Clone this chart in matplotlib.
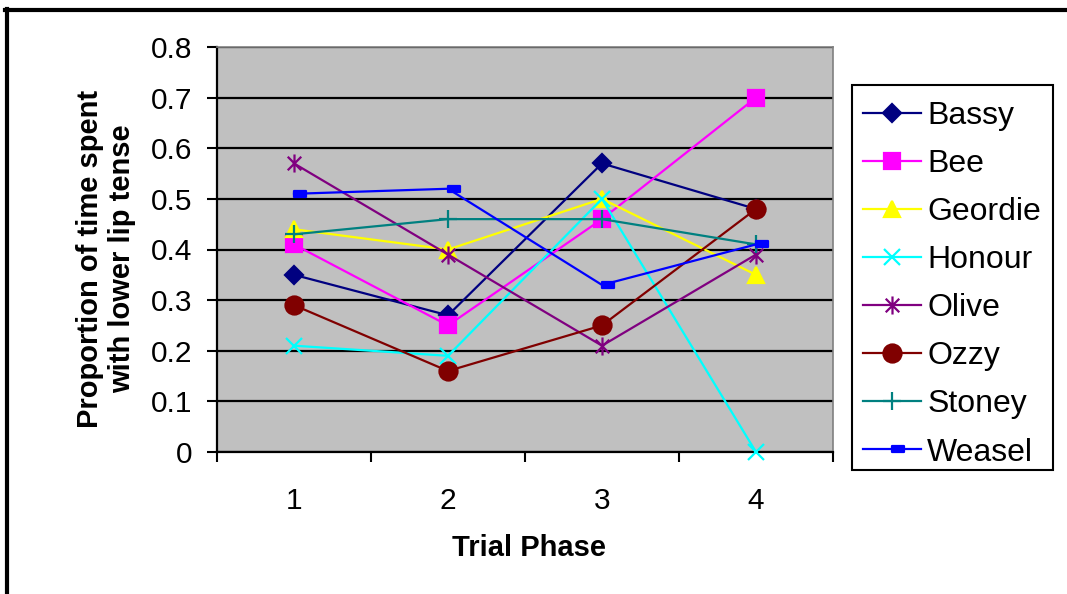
import matplotlib
matplotlib.use("Agg")
import matplotlib.pyplot as plt
from matplotlib.path import Path
from matplotlib.lines import Line2D
from matplotlib.patches import Rectangle

plt.rcParams['font.family'] = ['Liberation Sans', 'DejaVu Sans']

phases = [1, 2, 3, 4]
phase_labels = ["1", "2", "3", "4"]
names = ["Bassy", "Bee", "Geordie", "Honour", "Olive", "Ozzy", "Stoney", "Weasel"]
bassy = [0.35, 0.27, 0.57, 0.48]
bee = [0.41, 0.25, 0.46, 0.70]
geordie = [0.44, 0.40, 0.50, 0.35]
honour = [0.21, 0.19, 0.50, 0.00]
olive = [0.57, 0.39, 0.21, 0.39]
ozzy = [0.29, 0.16, 0.25, 0.48]
stoney = [0.43, 0.46, 0.46, 0.41]
weasel = [0.51, 0.52, 0.33, 0.41]
series = [bassy, bee, geordie, honour, olive, ozzy, stoney, weasel]
yticks = [0, 0.1, 0.2, 0.3, 0.4, 0.5, 0.6, 0.7, 0.8]
ytick_labels = ["0", "0.1", "0.2", "0.3", "0.4", "0.5", "0.6", "0.7", "0.8"]

colors = ["#000080", "#FF00FF", "#FFFF00", "#00FFFF", "#800080", "#800000", "#008080", "#0000FF"]

star = Path([(0, -1), (0, 1), (-0.75, -0.75), (0.75, 0.75), (-0.75, 0.75), (0.75, -0.75)],
            [Path.MOVETO, Path.LINETO, Path.MOVETO, Path.LINETO, Path.MOVETO, Path.LINETO])
dash = Path([(0, -0.25), (1, -0.25), (1, 0.25), (0, 0.25), (0, -0.25)],
            [Path.MOVETO, Path.LINETO, Path.LINETO, Path.LINETO, Path.CLOSEPOLY])
markers = ["D", "s", "^", "x", star, "o", "+", dash]
msizes = [9, 12, 12, 12, 13, 13, 13, 17]

fig = plt.figure(figsize=(10.67, 5.94), dpi=100)
ax = fig.add_axes([217/1067, 1-452/594, (833-217)/1067, (452-47)/594])
ax.set_facecolor("#C0C0C0")

handles = []
for name, vals, c, m, ms in zip(names, series, colors, markers, msizes):
    h, = ax.plot(phases, vals, color=c, lw=1.6, marker=m, markersize=ms,
                 markerfacecolor=c, markeredgecolor=c, markeredgewidth=1.6,
                 label=name, clip_on=False, zorder=3)
    handles.append(h)

ax.set_xlim(0.5, 4.5)
ax.set_ylim(0, 0.8)
ax.set_yticks(yticks)
ax.set_yticklabels(ytick_labels)
ax.yaxis.grid(True, color="black", lw=1.6)
ax.set_axisbelow(True)
ax.set_xticks(phases)
ax.set_xticklabels(phase_labels)
ax.set_xticks([0.5, 1.5, 2.5, 3.5, 4.5], minor=True)
ax.tick_params(axis='x', which='major', length=0, pad=25, labelsize=21.5)
ax.tick_params(axis='x', which='minor', length=7.5, width=1.5, color='black', direction='out')
ax.tick_params(axis='y', length=7.5, width=1.5, pad=10, labelsize=21.5, direction='out')
for s in ['left', 'bottom']:
    ax.spines[s].set_color('black')
    ax.spines[s].set_linewidth(1.6)
for s in ['top', 'right']:
    ax.spines[s].set_color('#808080')
    ax.spines[s].set_linewidth(1.2)

fig.text(529/1067, 1-548/594, "Trial Phase", ha='center', va='center',
         fontsize=21, fontweight='bold')
fig.text(106/1067, 1-259/594, "Proportion of time spent\nwith lower lip tense",
         ha='center', va='center', rotation=90, fontsize=21, fontweight='bold',
         linespacing=1.22)

# legend frame
fig.add_artist(Rectangle((852/1067, 1-470/594), (1053-852)/1067, (470-85)/594,
                         transform=fig.transFigure, facecolor='white',
                         edgecolor='black', lw=1.5, zorder=4))
leg = fig.legend(handles=handles, loc='upper left',
                 bbox_to_anchor=(852/1067, 1-90/594),
                 fontsize=23, frameon=False,
                 handlelength=1.8, handletextpad=0.2, labelspacing=0.565,
                 borderaxespad=0, borderpad=0.35)
leg.set_zorder(5)

fig.add_artist(Line2D([5/1067, 1], [1-10/594, 1-10/594], color='black', lw=3, transform=fig.transFigure))
fig.add_artist(Line2D([7/1067, 7/1067], [0, 1-9/594], color='black', lw=3, transform=fig.transFigure))

fig.savefig("out.png", dpi=100)
